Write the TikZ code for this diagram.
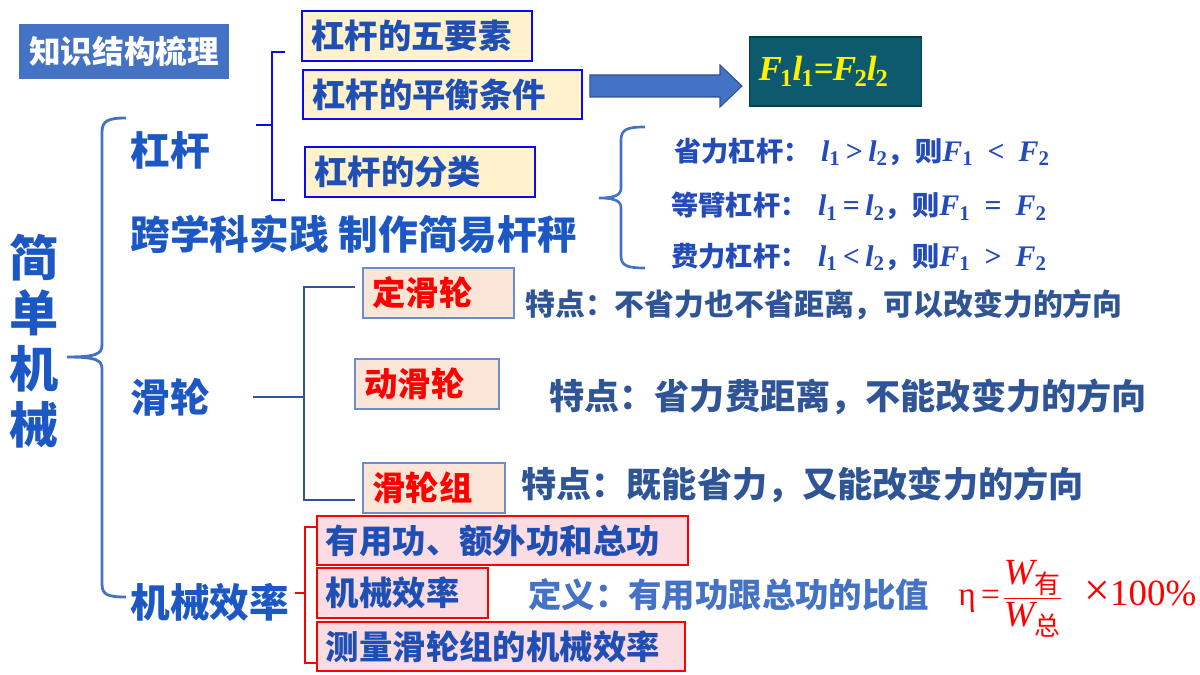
\documentclass[tikz,border=0pt]{standalone}
\usepackage{fontspec}
\usetikzlibrary{calc}
\newfontfamily\cjk{Noto Sans CJK SC}
\newfontfamily\tms{Liberation Serif}
\newcommand\myfs[1]{\fontsize{#1}{#1}\selectfont}
\newcommand\lv[1]{{\tms\itshape\myfs{17}l\textsubscript{\upshape #1}}}
\newcommand\Fv[1]{{\tms\itshape\myfs{17}F\textsubscript{\upshape #1}}}
\newcommand\rel[1]{{\tms\myfs{17}#1}}
\definecolor{bigblue}{RGB}{28,88,196}
\definecolor{boxtxt}{RGB}{31,78,181}
\definecolor{clsblue}{RGB}{35,75,185}
\definecolor{featblue}{RGB}{47,85,151}
\definecolor{defblue}{RGB}{68,114,196}
\definecolor{titleblue}{RGB}{68,114,196}
\definecolor{arrowedge}{RGB}{47,82,143}
\definecolor{lvfill}{RGB}{255,242,204}
\definecolor{lvborder}{RGB}{10,10,240}
\definecolor{pfill}{RGB}{251,229,214}
\definecolor{pborder}{RGB}{110,140,200}
\definecolor{rfill}{RGB}{250,220,226}
\definecolor{formfill}{RGB}{12,90,110}
\begin{document}
\begin{tikzpicture}[x=0.02cm,y=-0.02cm,
  every node/.style={inner sep=0pt},
  bigtxt/.style={anchor=west, text=bigblue, font=\cjk\bfseries\myfs{22.6}},
  lvbox/.style={anchor=west, draw=lvborder, line width=1.1pt, fill=lvfill, text=boxtxt,
    font=\cjk\bfseries\myfs{19}, align=left, inner xsep=0.19cm, minimum height=1cm},
  pbox/.style={anchor=west, draw=pborder, line width=0.9pt, fill=pfill, text=red,
    font=\cjk\bfseries\myfs{19}, align=left, inner xsep=0.19cm, minimum height=1cm},
  rbox/.style={anchor=west, draw=red, line width=1.1pt, fill=rfill, text=boxtxt,
    font=\cjk\bfseries\myfs{19}, align=left, inner xsep=0.18cm, minimum height=0.98cm},
  feat/.style={anchor=west, text=featblue, font=\cjk\bfseries\myfs{17}},
  cls/.style={anchor=west, text=clsblue, font=\cjk\bfseries\myfs{15.5}},
  bracecol/.style={draw=titleblue, line width=1.6pt},
  lvline/.style={draw=lvborder, line width=1.4pt},
  pline/.style={draw=featblue, line width=1.4pt},
  rline/.style={draw=red, line width=1.2pt}
]
\useasboundingbox (0,0) rectangle (1200,675);

% title
\node (title) [fill=titleblue, minimum width=4.2cm, minimum height=1.1cm, text=white,
  font=\cjk\bfseries\myfs{18}] at (124,51.5) {知识结构梳理};

% vertical main label
\node (jd) [text=bigblue, align=center, font=\cjk\bfseries\fontsize{28}{31.75}\selectfont]
  at (34,341) {简\\单\\机\\械};

% main branches
\node[bigtxt] (gg) at (130,150) {杠杆};
\node[bigtxt] (kx) at (130,234) {跨学科实践\hspace{0.25em}制作简易杆秤};
\node[bigtxt] (hl) at (130,397) {滑轮};
\node[bigtxt] (jx) at (130,602) {机械效率};

% big brace
\coordinate (B1) at (126,118);
\coordinate (Bt) at (67,357);
\coordinate (B2) at (126,597);
\draw[bracecol] (B1) .. controls (108,118) and (102,121) .. (102,132) -- (102,345)
  .. controls (102,354) and (96,357) .. (Bt) .. controls (96,357) and (102,360) .. (102,369)
  -- (102,584) .. controls (102,595) and (108,597) .. (B2);

% lever boxes
\node[lvbox, text width=4.22cm] (b1) at (301,36) {杠杆的五要素};
\node[lvbox, text width=5.2cm, minimum height=0.98cm] (b2) at (302,94.5) {杠杆的平衡条件};
\node[lvbox, text width=4.22cm] (b3) at (304,172) {杠杆的分类};

% lever bracket
\coordinate (L0) at (256,125);
\coordinate (L1) at (285,52);
\coordinate (L2) at (285,200);
\draw[lvline] (L1) -- (272,52) -- (272,200) -- (L2);
\draw[lvline] (L0) -- (272,125);

% formula box
\node (fm) [anchor=west, fill=formfill, draw=formfill!70!black, line width=0.6pt,
  minimum height=1.38cm, text width=3.08cm, inner xsep=0.18cm, align=left, text=yellow,
  font=\tms\bfseries\itshape\myfs{20}] at (749,71.5)
  {F\kern-1pt\textsubscript{\upshape 1}\kern-0.5pt l\kern-0.5pt\textsubscript{\upshape 1}\kern-0.5pt=\kern-0.5pt F\kern-1pt\textsubscript{\upshape 2}\kern-0.5pt l\kern-0.5pt\textsubscript{\upshape 2}};

% block arrow
\coordinate (as) at ($(b2.east)+(7,-8.5)$);
\coordinate (ae) at ($(fm.west)+(-7,14.5)$);
\draw[fill=titleblue, draw=arrowedge, line width=0.6pt]
  ($(as)+(0,-11)$) -- ($(ae)+(-22,-11)$) -- ($(ae)+(-22,-21)$) -- (ae)
  -- ($(ae)+(-22,21)$) -- ($(ae)+(-22,11)$) -- ($(as)+(0,11)$) -- cycle;

% classification brace
\coordinate (C1) at (645,127);
\coordinate (Ct) at (599,198);
\coordinate (C2) at (645,268);
\draw[bracecol, line width=1.5pt] (C1) .. controls (628,127) and (621,129) .. (621,140) -- (621,188)
  .. controls (621,195) and (615,198) .. (Ct) .. controls (615,198) and (621,201) .. (621,208)
  -- (621,256) .. controls (621,266) and (628,268) .. (C2);

\node[cls] (c1) at (674,152) {省力杠杆：\hspace{6pt}\lv1\hspace{3pt}\rel{>}\hspace{3pt}\lv2，则\Fv1\hspace{8pt}\rel{<}\hspace{8pt}\Fv2};
\node[cls] (c2) at (671,206) {等臂杠杆：\hspace{6pt}\lv1\hspace{3pt}\rel{=}\hspace{3pt}\lv2，则\Fv1\hspace{8pt}\rel{=}\hspace{8pt}\Fv2};
\node[cls] (c3) at (671,257) {费力杠杆：\hspace{6pt}\lv1\hspace{3pt}\rel{<}\hspace{3pt}\lv2，则\Fv1\hspace{8pt}\rel{>}\hspace{8pt}\Fv2};

% pulley boxes
\node[pbox, text width=2.64cm] (p1) at (362,293) {定滑轮};
\node[pbox, text width=2.50cm] (p2) at (354,384) {动滑轮};
\node[pbox, text width=2.46cm] (p3) at (362,488) {滑轮组};

% pulley bracket
\coordinate (P0) at (253,397);
\coordinate (P1) at (355,287);
\coordinate (P2) at (355,500);
\draw[pline] (P1) -- (304,287) -- (304,500) -- (P2);
\draw[pline] (P0) -- (304,397);

\node[feat] (t1) at (525,305) {特点：不省力也不省距离，可以改变力的方向};
\node[feat, font=\cjk\bfseries\myfs{20}] (t2) at (549,397) {特点：省力费距离，不能改变力的方向};
\node[feat, font=\cjk\bfseries\myfs{20}] (t3) at (521,485) {特点：既能省力，又能改变力的方向};

% efficiency boxes
\node[rbox, text width=7.06cm] (r1) at (316,540.5) {有用功、额外功和总功};
\node[rbox, text width=3.06cm, minimum height=1cm] (r2) at (316,593) {机械效率};
\node[rbox, text width=7.0cm] (r3) at (316,646.5) {测量滑轮组的机械效率};

% red bracket
\coordinate (R0) at (295,593);
\coordinate (R1) at (316,527);
\coordinate (R2) at (316,663);
\draw[rline] (R1) -- (305,527) -- (305,663) -- (R2);
\draw[rline] (R0) -- (305,593);

\node[anchor=west, text=defblue, font=\cjk\bfseries\myfs{19}] (df) at (528,595) {定义：有用功跟总功的比值};

% efficiency formula
\node[anchor=west, text=red, font=\tms\myfs{19}] (eta) at (958,599)
  {η\hspace{3pt}=\hspace{1pt}$\displaystyle\frac{\hbox{\tms\itshape\myfs{21}W\textsubscript{\cjk\upshape 有}}}{\hbox{\tms\itshape\myfs{21}W\textsubscript{\cjk\upshape 总}}}$\hspace{12pt}{\myfs{26}×}{\myfs{21}100\%}};
\end{tikzpicture}
\end{document}
